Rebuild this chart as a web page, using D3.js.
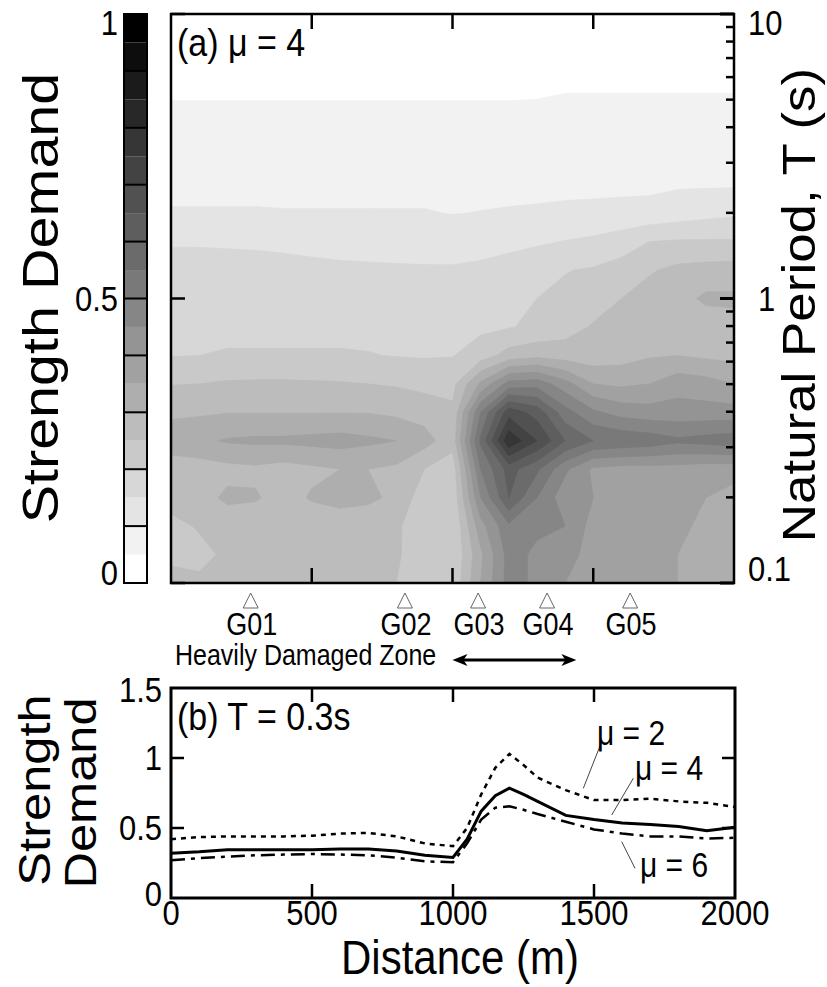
<!DOCTYPE html>
<html>
<head>
<meta charset="utf-8">
<script src="https://cdn.jsdelivr.net/npm/d3@7"></script>
<style>
  html, body { margin: 0; padding: 0; background: #fff; }
  svg { display: block; }
  text { font-family: "Liberation Sans", Arial, Helvetica, sans-serif; fill: #000; }
</style>
</head>
<body>
<svg id="chart" width="827" height="987"></svg>
<script>
// ---- Panel (a): strength demand for mu = 4 over distance and natural period ----
const distances = [0, 100, 200, 300, 400, 500, 600, 700, 800, 900, 1000,
                   1100, 1200, 1300, 1400, 1500, 1600, 1700, 1800, 1900, 2000];
// log10 of natural period T, one row per entry (top row = 10 s)
const logPeriods = [1.0, 0.9, 0.8, 0.7, 0.6, 0.5, 0.4, 0.3, 0.2, 0.1, 0.0,
                    -0.1, -0.2, -0.3, -0.4, -0.5, -0.6, -0.7, -0.8, -0.9, -1.0];
const demandMu4 = [
  [0,0,0,0,0,0,0,0,0,0,0,0,0,0,0,0,0,0,0,0,0],
  [0.01,0.01,0.01,0.01,0.01,0.01,0.01,0.01,0.01,0.01,0.01,0.01,0.01,0.01,0.01,0.01,0.01,0.01,0.01,0.01,0.01],
  [0.03,0.03,0.03,0.03,0.03,0.03,0.03,0.03,0.03,0.03,0.03,0.03,0.03,0.03,0.035,0.035,0.035,0.035,0.035,0.035,0.035],
  [0.049,0.049,0.049,0.049,0.049,0.049,0.049,0.049,0.049,0.049,0.049,0.049,0.049,0.05,0.054,0.054,0.054,0.054,0.054,0.054,0.054],
  [0.07,0.07,0.07,0.07,0.07,0.07,0.07,0.07,0.07,0.07,0.07,0.07,0.07,0.07,0.07,0.07,0.07,0.07,0.07,0.07,0.07],
  [0.08,0.08,0.08,0.08,0.08,0.08,0.08,0.08,0.08,0.08,0.08,0.08,0.08,0.08,0.08,0.08,0.08,0.08,0.08,0.08,0.08],
  [0.09,0.09,0.09,0.09,0.09,0.09,0.09,0.09,0.09,0.09,0.09,0.09,0.09,0.09,0.09,0.09,0.09,0.09,0.095,0.095,0.095],
  [0.103,0.103,0.103,0.103,0.102,0.102,0.102,0.102,0.102,0.102,0.099,0.101,0.103,0.105,0.108,0.11,0.113,0.116,0.125,0.135,0.142],
  [0.146,0.146,0.145,0.144,0.141,0.137,0.133,0.13,0.127,0.125,0.124,0.127,0.133,0.142,0.152,0.16,0.175,0.2,0.205,0.205,0.205],
  [0.166,0.166,0.165,0.164,0.163,0.161,0.159,0.158,0.157,0.156,0.156,0.162,0.175,0.19,0.198,0.205,0.22,0.245,0.262,0.268,0.27],
  [0.178,0.178,0.178,0.178,0.178,0.178,0.175,0.175,0.175,0.175,0.175,0.18,0.19,0.2,0.21,0.225,0.25,0.27,0.28,0.31,0.31],
  [0.188,0.188,0.188,0.188,0.188,0.188,0.188,0.188,0.188,0.188,0.188,0.19,0.197,0.21,0.23,0.255,0.265,0.26,0.26,0.27,0.28],
  [0.198,0.2,0.204,0.204,0.204,0.204,0.204,0.202,0.198,0.196,0.198,0.225,0.27,0.285,0.275,0.27,0.28,0.295,0.3,0.29,0.285],
  [0.248,0.25,0.256,0.258,0.258,0.256,0.254,0.25,0.245,0.235,0.235,0.36,0.47,0.48,0.42,0.35,0.34,0.35,0.38,0.37,0.35],
  [0.29,0.293,0.298,0.298,0.298,0.298,0.298,0.298,0.29,0.28,0.26,0.5,0.68,0.63,0.52,0.46,0.43,0.42,0.42,0.42,0.42],
  [0.33,0.34,0.355,0.36,0.36,0.365,0.37,0.36,0.35,0.32,0.27,0.56,0.79,0.7,0.6,0.55,0.54,0.53,0.51,0.52,0.53],
  [0.27,0.275,0.285,0.29,0.28,0.29,0.3,0.3,0.29,0.25,0.22,0.5,0.62,0.56,0.46,0.39,0.38,0.38,0.38,0.37,0.37],
  [0.27,0.28,0.31,0.305,0.28,0.305,0.315,0.31,0.29,0.22,0.21,0.45,0.6,0.5,0.42,0.4,0.38,0.38,0.37,0.35,0.33],
  [0.235,0.255,0.27,0.27,0.27,0.27,0.275,0.27,0.26,0.21,0.2,0.38,0.49,0.46,0.45,0.38,0.37,0.36,0.36,0.34,0.32],
  [0.24,0.235,0.26,0.27,0.27,0.27,0.27,0.27,0.26,0.205,0.2,0.34,0.47,0.44,0.42,0.38,0.36,0.36,0.35,0.33,0.31],
  [0.265,0.26,0.27,0.27,0.27,0.27,0.27,0.27,0.25,0.2,0.21,0.35,0.47,0.44,0.4,0.37,0.36,0.36,0.35,0.33,0.32]
];
const levelStep = 0.05;
const levelCount = 20;
const periodTicks = [0.1, 1, 10];
const colorbarTicks = [0, 0.5, 1];
const distanceTicks = [0, 500, 1000, 1500, 2000];

// Array stations along the line
const stationNames = ["G01", "G02", "G03", "G04", "G05"];
const stationDist = [283, 831, 1091, 1336, 1631];
const zoneLabel = "Heavily Damaged Zone";
const zoneRange = [1000, 1440];

// ---- Panel (b): strength demand at T = 0.3 s ----
const profileDist = [0, 100, 200, 300, 400, 500, 600, 700, 800, 900, 1000, 1050, 1100,
                     1150, 1200, 1250, 1300, 1400, 1500, 1600, 1700, 1800, 1900, 2000];
const mu2 = [0.42, 0.435, 0.44, 0.44, 0.44, 0.445, 0.46, 0.465, 0.44, 0.39, 0.37, 0.5, 0.74,
             0.93, 1.03, 0.95, 0.86, 0.77, 0.7, 0.7, 0.71, 0.69, 0.68, 0.65];
const mu4 = [0.32, 0.33, 0.345, 0.345, 0.345, 0.345, 0.35, 0.35, 0.336, 0.305, 0.29, 0.42, 0.62,
             0.73, 0.785, 0.74, 0.69, 0.59, 0.56, 0.535, 0.525, 0.51, 0.48, 0.505];
const mu6 = [0.27, 0.285, 0.295, 0.305, 0.31, 0.314, 0.31, 0.305, 0.288, 0.262, 0.255, 0.39, 0.56,
             0.645, 0.655, 0.63, 0.6, 0.545, 0.49, 0.46, 0.44, 0.44, 0.425, 0.43];
const demandTicks = [0, 0.5, 1, 1.5];

// ---- drawing ----
const SY = 1.15;               // vertical stretch applied to lettering
const svg = d3.select("#chart");

const A = { left: 171, right: 734, top: 14, bottom: 583 };
const B = { left: 171, right: 735, top: 688, bottom: 898 };
const CB = { left: 124, right: 147 };

const xA = d3.scaleLinear([0, 2000], [A.left, A.right]);
const yA = d3.scaleLog([0.1, 10], [A.bottom, A.top]);
const yCB = d3.scaleLinear([0, 1], [A.bottom, A.top]);
const xB = d3.scaleLinear([0, 2000], [B.left, B.right]);
const yB = d3.scaleLinear([0, 1.5], [B.bottom, B.top]);
const grey = d3.scaleLinear([0, levelCount - 1], ["#ffffff", "#000000"]);

function label(x, y, str, size, opts = {}) {
  const g = svg.append("g")
    .attr("transform", `translate(${x},${y}) scale(1,${SY})` + (opts.rotate ? " rotate(-90)" : ""));
  const t = g.append("text")
    .attr("font-size", size)
    .attr("text-anchor", opts.anchor || "start")
    .text(str);
  if (opts.dy) t.attr("dy", opts.dy);
  return t;
}

// contour field
const nx = distances.length, ny = logPeriods.length;
const values = demandMu4.flat();
const thresholds = d3.range(1, levelCount).map(i => +(i * levelStep).toFixed(2));
const contours = d3.contours().size([nx, ny]).thresholds(thresholds)(values);
const gx = d3.scaleLinear([0.5, nx - 0.5], [distances[0], distances[nx - 1]]);
const gy = d3.scaleLinear([0.5, ny - 0.5], [logPeriods[0], logPeriods[ny - 1]]);
const toPixels = d3.geoTransform({
  point(px, py) { this.stream.point(xA(gx(px)), yA(Math.pow(10, gy(py)))); }
});
const path = d3.geoPath(toPixels);

svg.append("clipPath").attr("id", "clipA")
  .append("rect").attr("x", A.left).attr("y", A.top)
  .attr("width", A.right - A.left).attr("height", A.bottom - A.top);

const field = svg.append("g").attr("clip-path", "url(#clipA)");
field.append("rect").attr("x", A.left).attr("y", A.top)
  .attr("width", A.right - A.left).attr("height", A.bottom - A.top)
  .attr("fill", grey(0));
field.selectAll("path").data(contours).join("path")
  .attr("d", path)
  .attr("fill", d => grey(Math.round(d.value / levelStep)))
  .attr("stroke", d => grey(Math.round(d.value / levelStep)))
  .attr("stroke-width", 0.6);

// frame and ticks of panel (a)
const axA = svg.append("g").attr("stroke", "#000").attr("fill", "none");
axA.append("rect").attr("x", A.left).attr("y", A.top)
  .attr("width", A.right - A.left).attr("height", A.bottom - A.top)
  .attr("stroke-width", 2.5);
[500, 1000, 1500].forEach(d => {
  axA.append("line").attr("x1", xA(d)).attr("x2", xA(d)).attr("y1", A.top).attr("y2", A.top + 15).attr("stroke-width", 2.5);
  axA.append("line").attr("x1", xA(d)).attr("x2", xA(d)).attr("y1", A.bottom).attr("y2", A.bottom - 15).attr("stroke-width", 2.5);
});
periodTicks.forEach(t => {
  axA.append("line").attr("x1", A.right).attr("x2", A.right - 14).attr("y1", yA(t)).attr("y2", yA(t)).attr("stroke-width", 3);
  axA.append("line").attr("x1", A.left).attr("x2", A.left + 14).attr("y1", yA(t)).attr("y2", yA(t)).attr("stroke-width", 2.5);
});
[0.1, 1].forEach(dec => d3.range(2, 10).forEach(m => {
  axA.append("line").attr("x1", A.right).attr("x2", A.right - 8)
    .attr("y1", yA(dec * m)).attr("y2", yA(dec * m)).attr("stroke-width", 2.5);
}));
label(A.right + 14, yA(10) + 9, "10", 31, { dy: "0.35em" });
label(A.right + 24, yA(1), "1", 31, { dy: "0.35em" });
label(A.right + 14, yA(0.1) - 14, "0.1", 31, { dy: "0.35em" });
label(815, 305, "Natural Period, T (s)", 46, { rotate: true, anchor: "middle" });
label(177, 56, "(a) \u03bc = 4", 34);

// colorbar
const cb = svg.append("g");
d3.range(levelCount).forEach(i => {
  cb.append("rect").attr("x", CB.left).attr("width", CB.right - CB.left)
    .attr("y", yCB((i + 1) * levelStep)).attr("height", yCB(i * levelStep) - yCB((i + 1) * levelStep))
    .attr("fill", grey(i));
});
d3.range(1, 10).forEach(i => {
  cb.append("line").attr("x1", CB.left).attr("x2", CB.right)
    .attr("y1", yCB(i / 10)).attr("y2", yCB(i / 10)).attr("stroke", "#000").attr("stroke-width", 2);
});
cb.append("rect").attr("x", CB.left).attr("y", A.top).attr("width", CB.right - CB.left)
  .attr("height", A.bottom - A.top).attr("fill", "none").attr("stroke", "#000").attr("stroke-width", 2);
colorbarTicks.forEach(v => {
  const off = v === 1 ? 9 : v === 0 ? -10 : 0;
  label(118, yCB(v) + off, String(v), 31, { anchor: "end", dy: "0.35em" });
});
label(58, 298, "Strength Demand", 50, { rotate: true, anchor: "middle" });

// stations and damaged zone
const st = svg.append("g");
stationDist.forEach((d, i) => {
  const x = xA(d);
  st.append("path").attr("d", `M${x},593 L${x + 7.5},608 L${x - 7.5},608 Z`)
    .attr("fill", "#fff").attr("stroke", "#666").attr("stroke-width", 1);
  label(x + 1, 635, stationNames[i], 27, { anchor: "middle" });
});
label(175, 665, zoneLabel, 25);
const ay = 660, ax0 = xA(zoneRange[0]), ax1 = xA(zoneRange[1]);
st.append("line").attr("x1", ax0 + 8).attr("x2", ax1 - 8).attr("y1", ay).attr("y2", ay)
  .attr("stroke", "#000").attr("stroke-width", 3);
st.append("path").attr("d", `M${ax0},${ay} L${ax0 + 15},${ay - 6} L${ax0 + 11},${ay} L${ax0 + 15},${ay + 6} Z`).attr("fill", "#000");
st.append("path").attr("d", `M${ax1},${ay} L${ax1 - 15},${ay - 6} L${ax1 - 11},${ay} L${ax1 - 15},${ay + 6} Z`).attr("fill", "#000");

// panel (b)
const gB = svg.append("g");
const line = d3.line().x((d, i) => xB(profileDist[i])).y(d => yB(d));
gB.append("path").attr("d", line(mu2)).attr("fill", "none").attr("stroke", "#000")
  .attr("stroke-width", 2.5).attr("stroke-dasharray", "5,5");
gB.append("path").attr("d", line(mu6)).attr("fill", "none").attr("stroke", "#000")
  .attr("stroke-width", 2.5).attr("stroke-dasharray", "14,6,4,6");
gB.append("path").attr("d", line(mu4)).attr("fill", "none").attr("stroke", "#000")
  .attr("stroke-width", 3);

const axB = svg.append("g").attr("stroke", "#000").attr("fill", "none");
axB.append("rect").attr("x", B.left).attr("y", B.top)
  .attr("width", B.right - B.left).attr("height", B.bottom - B.top).attr("stroke-width", 3);
[500, 1000, 1500].forEach(d => {
  axB.append("line").attr("x1", xB(d)).attr("x2", xB(d)).attr("y1", B.top).attr("y2", B.top + 14).attr("stroke-width", 2.5);
  axB.append("line").attr("x1", xB(d)).attr("x2", xB(d)).attr("y1", B.bottom).attr("y2", B.bottom - 14).attr("stroke-width", 2.5);
});
[0.5, 1].forEach(v => {
  axB.append("line").attr("x1", B.left).attr("x2", B.left + 13).attr("y1", yB(v)).attr("y2", yB(v)).attr("stroke-width", 2.5);
  axB.append("line").attr("x1", B.right).attr("x2", B.right - 13).attr("y1", yB(v)).attr("y2", yB(v)).attr("stroke-width", 2.5);
});
demandTicks.forEach(v => {
  const off = v === 0 ? -4 : v === 1.5 ? 2 : 0;
  label(162, yB(v) + off, String(v), 31, { anchor: "end", dy: "0.35em" });
});
distanceTicks.forEach(d => label(xB(d), 925, String(d), 31, { anchor: "middle" }));
label(460, 974, "Distance (m)", 42, { anchor: "middle" });
label(50, 790, "Strength", 44, { rotate: true, anchor: "middle" });
label(96, 793, "Demand", 44, { rotate: true, anchor: "middle" });
label(177, 730, "(b) T = 0.3s", 34);

// curve labels with leader lines
const leaders = [
  { text: "\u03bc = 2", tx: 597, ty: 745, l: [[601.7, 741.7], [583.3, 788.3]] },
  { text: "\u03bc = 4", tx: 635, ty: 780, l: [[633.3, 778.3], [611.7, 815]] },
  { text: "\u03bc = 6", tx: 640, ty: 877, l: [[621.7, 841.7], [635, 868.3]] }
];
leaders.forEach(o => {
  svg.append("line").attr("x1", o.l[0][0]).attr("y1", o.l[0][1]).attr("x2", o.l[1][0]).attr("y2", o.l[1][1])
    .attr("stroke", "#444").attr("stroke-width", 1);
  label(o.tx, o.ty, o.text, 30);
});
</script>
</body>
</html>
